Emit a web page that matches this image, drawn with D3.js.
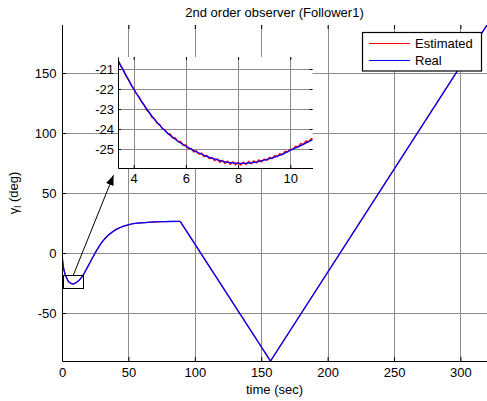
<!DOCTYPE html>
<html><head><meta charset="utf-8">
<script src="https://cdn.jsdelivr.net/npm/d3@7"></script>
<style>
html,body{margin:0;padding:0;background:#fff;}
svg{display:block;font-family:"Liberation Sans",Arial,sans-serif;}
</style></head><body>
<svg id="chart" width="487" height="401"></svg>
<script>
// Heading angle of follower 1: real value (deg) against time (sec)
const time = [0,0.3,0.6,1,1.5,2,2.5,3,3.4,3.5,3.75,4,4.25,4.5,4.75,5,5.25,5.5,5.75,6,6.25,6.5,6.75,7,7.25,7.5,7.75,8,8.25,8.5,8.75,9,9.25,9.5,9.75,10,10.25,10.5,10.75,11,12,14,16,18,20,22,24,26,28,30,32,35,38,42,46,50,55,60,65,70,75,80,89,157,320];
const real = [0,-4.5,-8.0,-11.3,-14.2,-16.4,-18.1,-19.5,-20.57,-20.82,-21.42,-22.0,-22.52,-23.0,-23.44,-23.82,-24.15,-24.43,-24.66,-24.86,-25.04,-25.2,-25.34,-25.46,-25.56,-25.64,-25.69,-25.72,-25.72,-25.69,-25.64,-25.56,-25.47,-25.36,-25.23,-25.06,-24.92,-24.77,-24.6,-24.43,-23.6,-21.3,-18.2,-14.3,-10.2,-6.0,-2.0,2.0,5.6,8.8,11.6,15.0,17.6,20.3,22.2,23.5,24.6,25.2,25.6,25.9,26.1,26.25,26.4,-90,190];

// Observer output over the zoomed window
const estTime = [3.4,3.5,3.6,3.7,3.8,3.9,4.0,4.1,4.2,4.3,4.4,4.5,4.6,4.7,4.8,4.9,5.0,5.1,5.2,5.3,5.4,5.5,5.6,5.7,5.8,5.9,6.0,6.1,6.2,6.3,6.4,6.5,6.6,6.7,6.8,6.9,7.0,7.1,7.2,7.3,7.4,7.5,7.6,7.7,7.8,7.9,8.0,8.1,8.2,8.3,8.4,8.5,8.6,8.7,8.8,8.9,9.0,9.1,9.2,9.3,9.4,9.5,9.6,9.7,9.8,9.9,10.0,10.1,10.2,10.3,10.4,10.5,10.6,10.7,10.8,10.9];
const estimated = [-20.55,-20.85,-21.03,-21.33,-21.52,-21.79,-21.98,-22.23,-22.38,-22.64,-22.80,-23.06,-23.18,-23.41,-23.49,-23.71,-23.78,-23.99,-24.04,-24.23,-24.25,-24.45,-24.45,-24.64,-24.62,-24.81,-24.80,-24.99,-24.97,-25.14,-25.09,-25.26,-25.21,-25.38,-25.32,-25.48,-25.43,-25.58,-25.50,-25.66,-25.57,-25.72,-25.61,-25.76,-25.65,-25.79,-25.67,-25.80,-25.66,-25.78,-25.63,-25.74,-25.60,-25.69,-25.55,-25.64,-25.50,-25.57,-25.42,-25.48,-25.33,-25.38,-25.23,-25.28,-25.12,-25.15,-25.01,-25.02,-24.86,-24.90,-24.73,-24.77,-24.60,-24.63,-24.48,-24.49];

const xTicks = [0,50,100,150,200,250,300];
const yTicks = [-50,0,50,100,150];
const insetXTicks = [4,6,8,10];
const insetYTicks = [-25,-24,-23,-22,-21];
const zoomT = [1,16];
const zoomV = [-29,-18.5];
const arrowFrom = [8.5,-18.5];
const arrowTo = [38.8,64.8];
const seriesNames = ["Estimated","Real"];
const seriesColors = ["#ff0000","#0000ff"];

const svg = d3.select("#chart");
const gridColor = "#8c8c8c";
const fs = "13px";

// ---------- main axes ----------
const x = d3.scaleLinear().domain([0,320]).range([62,487]);
const y = d3.scaleLinear().domain([-90,190]).range([361,25]);
const px = v => Math.round(v) + 0.5;

const grid = svg.append("g").attr("stroke", gridColor).attr("stroke-width", 1);
grid.selectAll("line.v").data(xTicks.filter(d => d > 0)).join("line")
  .attr("x1", d => px(x(d))).attr("x2", d => px(x(d)))
  .attr("y1", y.range()[1]).attr("y2", y.range()[0]);
grid.selectAll("line.h").data(yTicks).join("line")
  .attr("y1", d => px(y(d))).attr("y2", d => px(y(d)))
  .attr("x1", x.range()[0]).attr("x2", x.range()[1]);

svg.append("clipPath").attr("id", "mainClip").append("rect")
  .attr("x", 62).attr("y", 25).attr("width", 425).attr("height", 336);

const pts = time.map((t, i) => [t, real[i]]);
const cornerIdx = time.indexOf(89);
const smoothPart = pts.slice(0, cornerIdx + 1);
const straightPart = pts.slice(cornerIdx);

function drawReal(g, sx, sy, color, width) {
  const smooth = d3.line().x(d => sx(d[0])).y(d => sy(d[1])).curve(d3.curveMonotoneX);
  const straight = d3.line().x(d => sx(d[0])).y(d => sy(d[1]));
  g.append("path").attr("d", smooth(smoothPart)).attr("fill", "none")
    .attr("stroke", color).attr("stroke-width", width).attr("stroke-linejoin", "round");
  g.append("path").attr("d", straight(straightPart)).attr("fill", "none")
    .attr("stroke", color).attr("stroke-width", width).attr("stroke-linejoin", "round");
}

const mainLines = svg.append("g").attr("clip-path", "url(#mainClip)");
drawReal(mainLines, x, y, seriesColors[0], 1.2);
drawReal(mainLines, x, y, seriesColors[1], 1.3);

function styleAxis(g) {
  g.selectAll("path.domain").attr("stroke", "#000").attr("stroke-width", 1);
  g.selectAll(".tick line").attr("stroke", "#000");
  g.selectAll("text").attr("fill", "#000").style("font-size", fs)
    .style("font-family", '"Liberation Sans",Arial,sans-serif');
}

svg.append("g").attr("transform", "translate(0,361)")
  .call(d3.axisBottom(x).tickValues(xTicks).tickFormat(String).tickSize(-4).tickSizeOuter(0).tickPadding(7))
  .call(styleAxis);
svg.append("g").attr("transform", "translate(62,0)")
  .call(d3.axisLeft(y).tickValues(yTicks).tickFormat(String).tickSize(-4).tickSizeOuter(0).tickPadding(5.5))
  .call(styleAxis);
svg.append("g").attr("transform", "translate(0,25)")
  .call(d3.axisTop(x).tickValues(xTicks).tickFormat("").tickSize(-4).tickSizeOuter(0))
  .call(g => g.select("path.domain").remove())
  .call(styleAxis);

// zoom rectangle and pointer
svg.append("rect")
  .attr("x", px(x(zoomT[0]))).attr("y", px(y(zoomV[1])))
  .attr("width", Math.round(x(zoomT[1]) - x(zoomT[0])))
  .attr("height", Math.round(y(zoomV[0]) - y(zoomV[1])))
  .attr("fill", "none").attr("stroke", "#000").attr("stroke-width", 1);

svg.append("defs").append("marker").attr("id", "head")
  .attr("viewBox", "0 0 10 8").attr("refX", 10).attr("refY", 4)
  .attr("markerWidth", 10).attr("markerHeight", 8).attr("orient", "auto")
  .attr("markerUnits", "userSpaceOnUse")
  .append("path").attr("d", "M0,0L10,4L0,8Z").attr("fill", "#000");
svg.append("line")
  .attr("x1", x(arrowFrom[0])).attr("y1", y(arrowFrom[1]))
  .attr("x2", x(arrowTo[0])).attr("y2", y(arrowTo[1]))
  .attr("stroke", "#000").attr("stroke-width", 1).attr("marker-end", "url(#head)");

// ---------- inset ----------
const ix = d3.scaleLinear().domain([3.4,10.85]).range([118,312.5]);
const iy = d3.scaleLinear().domain([-25.95,-20.4]).range([168,57]);
const inset = svg.append("g");
inset.append("rect").attr("x", 118).attr("y", 57).attr("width", 194.5).attr("height", 111).attr("fill", "#fff");
const igrid = inset.append("g").attr("stroke", gridColor).attr("stroke-width", 1);
igrid.selectAll("line.v").data(insetXTicks).join("line")
  .attr("x1", d => px(ix(d))).attr("x2", d => px(ix(d))).attr("y1", 57).attr("y2", 168);
igrid.selectAll("line.h").data(insetYTicks).join("line")
  .attr("y1", d => px(iy(d))).attr("y2", d => px(iy(d))).attr("x1", 118).attr("x2", 312.5);

inset.append("clipPath").attr("id", "insetClip").append("rect")
  .attr("x", 118).attr("y", 57).attr("width", 194.5).attr("height", 111);
const ilines = inset.append("g").attr("clip-path", "url(#insetClip)");
ilines.append("path")
  .attr("d", d3.line().x((d, i) => ix(estTime[i])).y(d => iy(d))(estimated))
  .attr("fill", "none").attr("stroke", seriesColors[0]).attr("stroke-width", 1.4);
drawReal(ilines, ix, iy, seriesColors[1], 1.3);

inset.append("g").attr("transform", "translate(0,168)")
  .call(d3.axisBottom(ix).tickValues(insetXTicks).tickFormat(String).tickSize(-3).tickSizeOuter(0).tickPadding(6))
  .call(styleAxis);
inset.append("g").attr("transform", "translate(118,0)")
  .call(d3.axisLeft(iy).tickValues(insetYTicks).tickFormat(String).tickSize(-3).tickSizeOuter(0).tickPadding(4))
  .call(styleAxis);
inset.append("g").attr("transform", "translate(0,57)")
  .call(d3.axisTop(ix).tickValues(insetXTicks).tickFormat("").tickSize(-3).tickSizeOuter(0))
  .call(g => g.select("path.domain").remove()).call(styleAxis);
inset.append("g").attr("transform", "translate(312.5,0)")
  .call(d3.axisRight(iy).tickValues(insetYTicks).tickFormat("").tickSize(-3).tickSizeOuter(0))
  .call(g => g.select("path.domain").remove()).call(styleAxis);

// ---------- legend ----------
const lg = svg.append("g");
lg.append("rect").attr("x", 362.5).attr("y", 32.5).attr("width", 119).attr("height", 38.5)
  .attr("fill", "#fff").attr("stroke", "#000").attr("stroke-width", 1.2);
seriesNames.forEach((name, i) => {
  const ly = 43.5 + i * 17;
  lg.append("line").attr("x1", 369).attr("x2", 410).attr("y1", ly).attr("y2", ly)
    .attr("stroke", seriesColors[i]).attr("stroke-width", 1);
  lg.append("text").attr("x", 415).attr("y", ly + 4.5).text(name)
    .style("font-size", fs).attr("fill", "#000");
});

// ---------- titles ----------
svg.append("text").attr("x", 274.5).attr("y", 17).attr("text-anchor", "middle")
  .style("font-size", fs).text("2nd order observer (Follower1)");
svg.append("text").attr("x", 274.5).attr("y", 394).attr("text-anchor", "middle")
  .style("font-size", fs).text("time (sec)");
const yl = svg.append("text").attr("transform", "translate(18,193) rotate(-90)")
  .attr("text-anchor", "middle").style("font-size", fs);
yl.append("tspan").text("γ");
yl.append("tspan").attr("dy", 3).style("font-size", "9px").text("l");
yl.append("tspan").attr("dy", -3).text(" (deg)");
</script>
</body></html>
